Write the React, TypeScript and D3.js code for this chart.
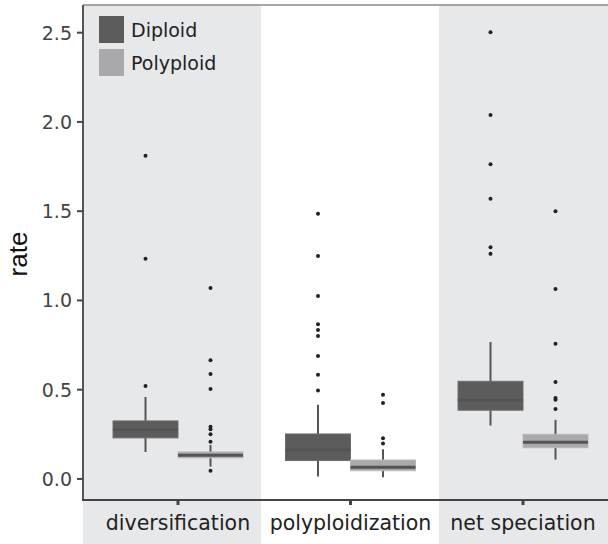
import React from 'react';
import * as d3 from 'd3';

const CATEGORIES = ['diversification', 'polyploidization', 'net speciation'];
const GROUPS = ['Diploid', 'Polyploid'];
const Y_TICKS = [0, 0.5, 1.0, 1.5, 2.0, 2.5];

// box summaries per category, [Diploid, Polyploid]
const Q1 = [[0.23, 0.118], [0.103, 0.046], [0.385, 0.175]];
const MEDIAN = [[0.275, 0.133], [0.162, 0.066], [0.441, 0.206]];
const Q3 = [[0.325, 0.151], [0.252, 0.106], [0.547, 0.25]];
const WHISK_LO = [[0.151, 0.069], [0.013, 0.01], [0.299, 0.108]];
const WHISK_HI = [[0.459, 0.19], [0.415, 0.166], [0.767, 0.331]];
const OUTLIERS = [
  [
    [0.521, 1.234, 1.811],
    [0.046, 0.209, 0.25, 0.278, 0.293, 0.504, 0.588, 0.665, 1.07],
  ],
  [
    [0.495, 0.583, 0.689, 0.801, 0.835, 0.867, 1.025, 1.249, 1.485],
    [0.198, 0.228, 0.426, 0.471],
  ],
  [
    [1.261, 1.298, 1.569, 1.763, 2.039, 2.502],
    [0.392, 0.444, 0.454, 0.543, 0.758, 1.064, 1.5],
  ],
];

const W = 608;
const H = 544;
const left = 83;
const top = 5;
const bottom = 500;

const FILL: Record<string, string> = { Diploid: '#5c5c5d', Polyploid: '#a9a9ab' };
const EDGE: Record<string, string> = { Diploid: '#6e6e70', Polyploid: '#b9b9bb' };
const FONT = "'DejaVu Sans', sans-serif";

export default function App() {
  const y = d3.scaleLinear().domain([-0.118, 2.655]).range([bottom, top]);
  const x = d3.scaleBand<string>().domain(CATEGORIES).range([91.75, 609.25]);
  const panel = d3.scaleBand<string>().domain(CATEGORIES).range([left, left + 534]);
  const inner = d3.scaleBand<string>().domain(GROUPS).range([-65, 65]);
  const cx = (c: string) => (x(c) ?? 0) + x.bandwidth() / 2;

  return (
    <svg width={W} height={H} style={{ position: 'absolute', left: 0, top: 0, background: '#fff' }}>
      {CATEGORIES.map((c, i) => {
        if (i === 1) return null;
        const x0 = Math.max(panel(c) ?? 0, left);
        const x1 = Math.min((panel(c) ?? 0) + panel.bandwidth(), W);
        return <rect key={c} x={x0} y={top} width={x1 - x0} height={H - top} fill="#e7e8ea" />;
      })}

      <line x1={left} x2={W} y1={top} y2={top} stroke="#8a8a8a" strokeWidth={1.5} />

      {CATEGORIES.map((c, ci) => (
        <g key={c} transform={`translate(${cx(c)},0)`}>
          {GROUPS.map((g, gi) => {
            const bx = inner(g) ?? 0;
            const bw = inner.bandwidth();
            const mid = bx + bw / 2;
            return (
              <g key={g}>
                <line x1={mid} x2={mid} y1={y(WHISK_HI[ci][gi])} y2={y(WHISK_LO[ci][gi])}
                  stroke="#555557" strokeWidth={2} />
                <rect x={bx} y={y(Q3[ci][gi])} width={bw}
                  height={y(Q1[ci][gi]) - y(Q3[ci][gi])}
                  fill={FILL[g]} stroke={EDGE[g]} strokeWidth={1} />
                <line x1={bx} x2={bx + bw} y1={y(MEDIAN[ci][gi])} y2={y(MEDIAN[ci][gi])}
                  stroke="#545456" strokeWidth={3} />
                {OUTLIERS[ci][gi].map((v, k) => (
                  <circle key={k} cx={mid} cy={y(v)} r={2} fill="#222" />
                ))}
              </g>
            );
          })}
        </g>
      ))}

      <line x1={left} x2={left} y1={top} y2={bottom} stroke="#555" strokeWidth={2} />
      <line x1={left - 1} x2={W} y1={bottom} y2={bottom} stroke="#444" strokeWidth={2} />

      {Y_TICKS.map(t => (
        <g key={t}>
          <line x1={left - 6} x2={left} y1={y(t)} y2={y(t)} stroke="#444" strokeWidth={2} />
          <text x={72} y={y(t)} dy="0.36em" textAnchor="end" fontFamily={FONT}
            fontSize={19} fill="#444">{d3.format('.1f')(t)}</text>
        </g>
      ))}

      {CATEGORIES.map(c => (
        <g key={c}>
          <line x1={cx(c)} x2={cx(c)} y1={bottom} y2={bottom + 5} stroke="#444" strokeWidth={3} />
          <text x={cx(c)} y={530} textAnchor="middle" fontFamily={FONT} fontSize={20.5}
            fill="#222">{c}</text>
        </g>
      ))}

      <text transform="translate(27,254) rotate(-90)" textAnchor="middle"
        fontFamily="'Liberation Sans', Arial, sans-serif" fontSize={26} fill="#111">rate</text>

      {GROUPS.map((g, i) => (
        <g key={g} transform={`translate(99,${16 + i * 33})`}>
          <rect width={25} height={27} fill={FILL[g]} />
          <text x={32} y={21} fontFamily={FONT} fontSize={19} fill="#222">{g}</text>
        </g>
      ))}
    </svg>
  );
}
